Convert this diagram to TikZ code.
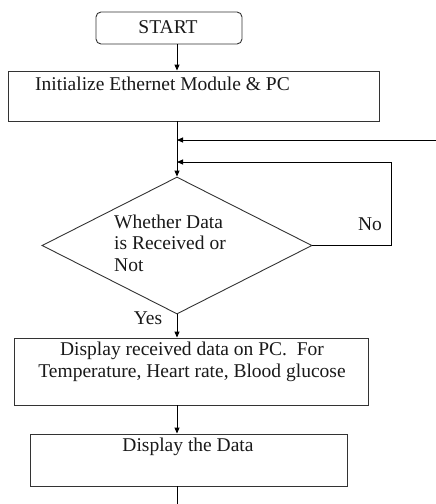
\documentclass[tikz,border=0pt]{standalone}
\usepackage{fontspec}
\setmainfont{Liberation Serif}
\usetikzlibrary{shapes.geometric,arrows.meta}
\begin{document}
\begin{tikzpicture}[x=1pt,y=-1pt,
  every node/.style={font=\fontsize{19.5}{21.5}\selectfont, text=black!90},
  box/.style={draw=black!80, line width=0.9pt, rectangle, inner sep=0pt},
  flow/.style={draw=black, line width=0.9pt, -{Triangle[length=6pt,width=5pt]}},
  plain/.style={draw=black, line width=0.9pt}]
\useasboundingbox (0,0) rectangle (436,504);
% main column of the flow
\coordinate (col) at (177,0);
% start terminal
\node[box, rounded corners=5pt, minimum width=146pt, minimum height=32pt] (start) at (169,28) {};
\node (startt) at (168,27) {START};
% initialisation block
\node[box, minimum width=371pt, minimum height=50pt] (init) at (193.5,96) {};
\node[anchor=west, inner sep=0pt] (initt) at (35,84) {Initialize Ethernet Module \& PC};
% decision
\node[draw=black!80, line width=0.9pt, diamond, inner sep=0pt, minimum width=270pt, minimum height=137pt] (dia) at (177,245.5) {};
\node[anchor=west, align=left, inner sep=0pt] (diat) at (114,243) {Whether Data\\is Received or\\Not};
% display blocks
\node[box, minimum width=354pt, minimum height=67pt] (disp) at (191,371.5) {};
\node[align=center, inner sep=0pt] (dispt) at (192,362) {Display received data on PC.\ \ For\\Temperature, Heart rate, Blood glucose};
\node[box, minimum width=317pt, minimum height=52pt] (show) at (188.5,460) {};
\node[inner sep=0pt] (showt) at (188,447) {Display the Data};
% branch labels
\node (no) at (370,224) {No};
\node (yes) at (148,318) {Yes};
% junction points
\coordinate (ext) at (436,140);
\coordinate (j1) at (177,140);
\coordinate (j2) at (177,162);
\coordinate (loopc) at (391,162);
\coordinate (endc) at (177,504);
% connectors
\draw[flow] (start.south -| col) -- (init.north -| col);
\draw[flow] (init.south -| col) -- (dia.north);
\draw[flow] (ext) -- (j1);
\draw[flow] (dia.east) -| (loopc) -- (j2);
\draw[flow] (dia.south) -- (disp.north -| col);
\draw[flow] (disp.south -| col) -- (show.north -| col);
\draw[plain] (show.south -| col) -- (endc);
\end{tikzpicture}
\end{document}
